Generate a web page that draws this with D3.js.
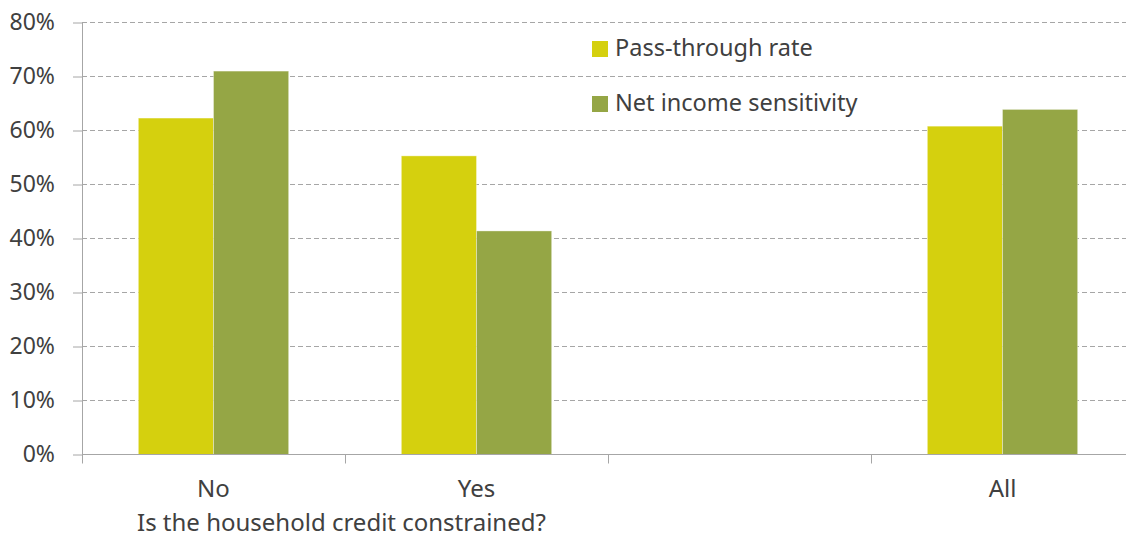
<!DOCTYPE html>
<html>
<head>
<meta charset="utf-8">
<script src="https://cdn.jsdelivr.net/npm/d3@7"></script>
<style>
  html, body { margin: 0; padding: 0; background: #fff; }
  svg { display: block; }
  text { font-family: "Noto Sans", "Open Sans", sans-serif; fill: #404040; }
</style>
</head>
<body>
<svg id="chart" width="1126" height="538"></svg>
<script>
const categories = ["No", "Yes", "", "All"];
const seriesNames = ["Pass-through rate", "Net income sensitivity"];
const passThrough = [0.623, 0.553, null, 0.608];
const netIncome = [0.710, 0.414, null, 0.639];
const yTicks = [0, 0.1, 0.2, 0.3, 0.4, 0.5, 0.6, 0.7, 0.8];
const axisTitle = "Is the household credit constrained?";
const colors = ["#D5D00E", "#95A645"];

const svg = d3.select("#chart");
const x0 = 82, x1 = 1134, yTop = 22.5, yBot = 454.5;

const x = d3.scaleBand().domain(categories).range([x0, x1]).paddingInner(0).paddingOuter(0);
const xs = d3.scaleBand().domain(seriesNames).range([0, x.bandwidth()]).paddingInner(0).paddingOuter(0.75);
const y = d3.scaleLinear().domain([0, 0.8]).range([yBot, yTop]);

// gridlines
svg.append("g").selectAll("line").data(yTicks.filter(d => d > 0)).join("line")
  .attr("x1", x0).attr("x2", 1126)
  .attr("y1", d => y(d)).attr("y2", d => y(d))
  .attr("stroke", "#A6A6A6").attr("stroke-width", 1).attr("stroke-dasharray", "5,3");

// bars
const data = [passThrough, netIncome];
data.forEach((vals, si) => {
  svg.append("g").selectAll("rect")
    .data(categories.map((c, i) => ({ c, v: vals[i] })).filter(d => d.v != null))
    .join("rect")
    .attr("x", d => x(d.c) + xs(seriesNames[si]))
    .attr("width", xs.bandwidth())
    .attr("y", d => y(d.v))
    .attr("height", d => yBot - y(d.v))
    .attr("fill", colors[si])
    .attr("stroke", "#ffffff").attr("stroke-opacity", 0.35).attr("stroke-width", 1);
});

// y axis
const yAxis = d3.axisLeft(y).tickValues(yTicks).tickFormat(d3.format(".0%")).tickSize(9).tickPadding(18);
const gy = svg.append("g").attr("transform", `translate(${x0},0)`).call(yAxis);
gy.select(".domain").attr("stroke", "#A6A6A6").attr("d", `M0.5,${yTop}V${yBot}`);
gy.selectAll(".tick line").attr("stroke", "#A6A6A6");
gy.selectAll(".tick text").style("font-size", "23px").attr("fill", "#404040").style("font-family", '"Noto Sans", sans-serif');

// x axis
const xTickPos = d3.range(categories.length).map(i => x(categories[i]));
const gx = svg.append("g").attr("transform", `translate(0,${yBot})`);
gx.append("line").attr("x1", x0).attr("x2", 1126).attr("y1", 0).attr("y2", 0).attr("stroke", "#A6A6A6");
gx.selectAll("line.tk").data(xTickPos).join("line").attr("class", "tk")
  .attr("x1", d => Math.round(d) + 0.5).attr("x2", d => Math.round(d) + 0.5)
  .attr("y1", 0).attr("y2", 9).attr("stroke", "#A6A6A6");
gx.selectAll("text").data(categories).join("text")
  .attr("x", d => x(d) + x.bandwidth() / 2).attr("y", 42.5)
  .attr("text-anchor", "middle").style("font-size", "24px").text(d => d);

svg.append("text").attr("x", 137).attr("y", 531).style("font-size", "24px").text(axisTitle);

// legend
const lg = svg.append("g").attr("transform", "translate(592,41)");
seriesNames.forEach((n, i) => {
  const g = lg.append("g").attr("transform", `translate(0,${i * 55})`);
  g.append("rect").attr("width", 16).attr("height", 16).attr("fill", colors[i]);
  g.append("text").attr("x", 23).attr("y", 15).style("font-size", "23.5px").text(n);
});
</script>
</body>
</html>
